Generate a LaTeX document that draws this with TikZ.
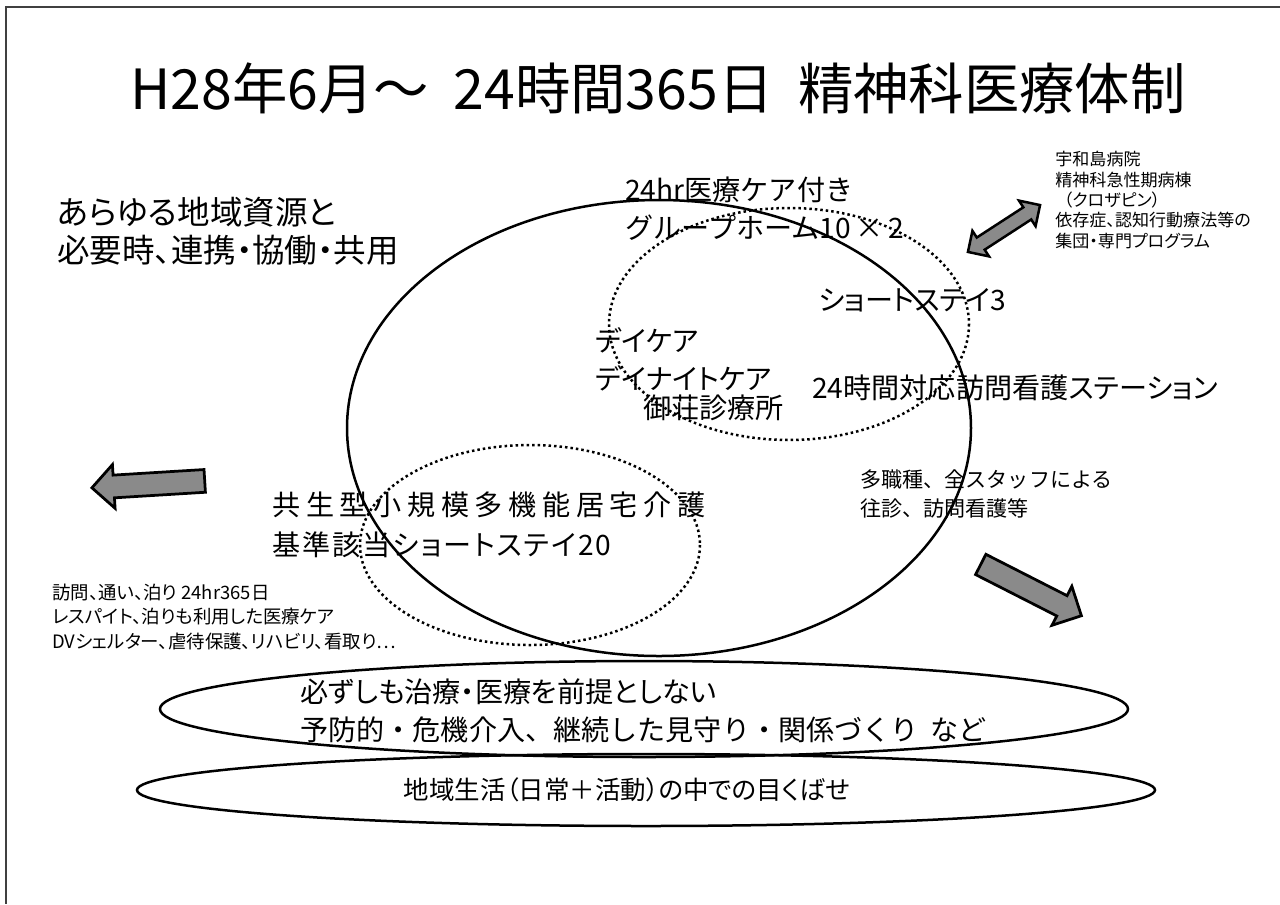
\documentclass[tikz,border=0pt]{standalone}
\usepackage{fontspec}
\setmainfont{Noto Sans CJK JP}[RawFeature=+palt]
\newfontfamily\jpfull{Noto Sans CJK JP}
\newfontfamily\jpwideA{Noto Sans CJK JP}[RawFeature=+palt,LetterSpace=20]
\newfontfamily\jpwideB{Noto Sans CJK JP}[RawFeature=+palt,LetterSpace=7]
\usetikzlibrary{shapes.arrows}
\definecolor{arrowgray}{HTML}{8A8A8A}
\definecolor{framegray}{HTML}{404040}
\tikzset{
  txt/.style={anchor=west, align=left, inner sep=0pt},
  outline/.style={draw=black, line width=0.5mm},
  dotline/.style={draw=black, line width=0.5mm, dash pattern=on 0.5mm off 0.6mm},
  blockarrow/.style={single arrow, draw=black, fill=arrowgray, line width=0.55mm,
    inner xsep=0pt, inner ysep=2mm, single arrow head extend=2.1mm,
    minimum height=22.6mm, minimum width=0pt},
  dblarrow/.style={double arrow, draw=black, fill=arrowgray, line width=0.5mm,
    inner xsep=0pt, inner ysep=1.2mm, double arrow head extend=1.6mm,
    minimum height=17.2mm, minimum width=0pt}
}
\begin{document}
\begin{tikzpicture}[x=0.2mm, y=-0.2mm]
\useasboundingbox (0,0) rectangle (1280,904);
\fill[white] (0,0) rectangle (1280,904);
% frame
\coordinate (fo) at (6,7);
\coordinate (fr) at (1280,7);
\coordinate (fb) at (6,904);
\draw[framegray, line width=0.4mm] (fr) -- (fo) -- (fb);

% title
\node[txt, font=\fontsize{31.5}{38}\selectfont] (title) at (130,88) {H28年6月～\ \ 24時間365日\ \ 精神科医療体制};

% ellipses
\draw[outline] (659,428) ellipse [x radius=312, y radius=228];
\draw[dotline] (789,324) ellipse [x radius=180, y radius=116];
\draw[dotline] (530,545) ellipse [x radius=170, y radius=100];
\draw[outline] (644,709) ellipse [x radius=484, y radius=48];
\draw[outline] (646,790) ellipse [x radius=509, y radius=36];

% arrows
\node[blockarrow, rotate=183.5] (leftarr) at (154,484) {};
\node[blockarrow, rotate=-27] (rightarr) at (1026,587.5) {};
\node[dblarrow, rotate=33] (dbl) at (1004,228.5) {};

% texts
\node[txt, font=\fontsize{18.5}{21.6}\selectfont] (res) at (57,231) {あらゆる地域資源と\\必要時、連携・協働・共用};
\node[txt, font=\jpfull\fontsize{16}{21.6}\selectfont] (gh) at (625,209) {24hr医療ケア付き\\グループホーム10\,×\,2};
\node[txt, font=\fontsize{16}{21.6}\selectfont] (ss) at (818,300) {ショートステイ3};
\node[txt, font=\fontsize{16}{21.6}\selectfont] (dc) at (595,359) {デイケア\\デイナイトケア};
\node[txt, font=\fontsize{16}{21.6}\selectfont] (clinic) at (643,408) {御荘診療所};
\node[txt, font=\fontsize{16}{21.6}\selectfont] (vns) at (812,388) {24時間対応訪問看護ステーション};
\node[txt, font=\fontsize{16}{22.8}\selectfont] (kyosei) at (272,525) {{\jpwideA 共生型小規模多機能居宅介護}\\{\jpwideB 基準該当ショートステイ20}};
\node[txt, font=\jpfull\fontsize{12}{16}\selectfont] (staff) at (860,494) {多職種、全スタッフによる\\往診、訪問看護等};
\node[txt, font=\fontsize{10.5}{14.2}\selectfont] (visit) at (52,617) {訪問、通い、泊り\ 24hr365日\\レスパイト、泊りも利用した医療ケア\\DVシェルター、虐待保護、リハビリ、看取り…};
\node[txt, font=\fontsize{9.7}{11.6}\selectfont] (uwa) at (1055,200) {宇和島病院\\精神科急性期病棟\\\hspace{0.5em}（クロザピン）\\依存症、認知行動療法等の\\集団・専門プログラム};
\node[txt, font=\fontsize{16}{21.6}\selectfont] (prev) at (300,711) {必ずしも治療・医療を前提としない\\{\jpfull 予防的・危機介入、継続した見守り・関係づくり\hspace{0.4em}など}};
\node[font=\fontsize{14.5}{18}\selectfont, inner sep=0pt] (life) at (627,790) {地域生活（日常＋活動）の中での目くばせ};
\end{tikzpicture}
\end{document}
